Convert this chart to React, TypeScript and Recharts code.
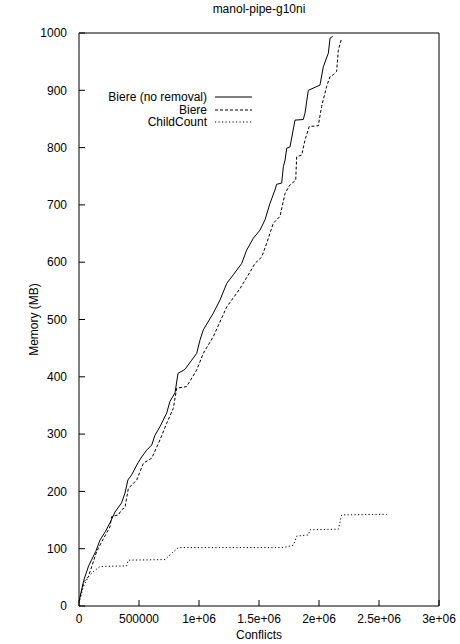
import { LineChart, Line, XAxis, YAxis, Label } from 'recharts'

// Biere (no removal) — conflicts vs memory in MB
const noRemovalPoints = [
  { x: 0, y: 8 }, { x: 40000, y: 45 }, { x: 80000, y: 70 }, { x: 139000, y: 95 },
  { x: 175000, y: 115 }, { x: 220000, y: 130 }, { x: 258000, y: 145 }, { x: 300000, y: 164 },
  { x: 355000, y: 180 }, { x: 383000, y: 197 }, { x: 408000, y: 220 }, { x: 439000, y: 229 },
  { x: 492000, y: 250 }, { x: 522000, y: 260 }, { x: 564000, y: 272 }, { x: 606000, y: 281 },
  { x: 633000, y: 298 }, { x: 675000, y: 313 }, { x: 731000, y: 337 }, { x: 758000, y: 357 },
  { x: 800000, y: 372 }, { x: 825000, y: 406 }, { x: 883000, y: 413 }, { x: 939000, y: 429 },
  { x: 981000, y: 441 }, { x: 1008000, y: 464 }, { x: 1036000, y: 482 }, { x: 1119000, y: 511 },
  { x: 1175000, y: 534 }, { x: 1231000, y: 563 }, { x: 1286000, y: 578 }, { x: 1356000, y: 598 },
  { x: 1397000, y: 621 }, { x: 1453000, y: 642 }, { x: 1508000, y: 656 }, { x: 1550000, y: 674 },
  { x: 1592000, y: 703 }, { x: 1633000, y: 726 }, { x: 1647000, y: 736 }, { x: 1689000, y: 738 },
  { x: 1703000, y: 767 }, { x: 1717000, y: 778 }, { x: 1731000, y: 799 }, { x: 1758000, y: 801 },
  { x: 1800000, y: 848 }, { x: 1869000, y: 849 }, { x: 1883000, y: 860 }, { x: 1911000, y: 900 },
  { x: 2008000, y: 909 }, { x: 2036000, y: 941 }, { x: 2078000, y: 965 }, { x: 2092000, y: 991 },
  { x: 2114000, y: 994 },
]

// Biere
const bierePoints = [
  { x: 0, y: 8 }, { x: 40000, y: 42 }, { x: 78000, y: 51 }, { x: 147000, y: 95 },
  { x: 189000, y: 112 }, { x: 258000, y: 138 }, { x: 272000, y: 156 }, { x: 328000, y: 159 },
  { x: 356000, y: 168 }, { x: 383000, y: 172 }, { x: 411000, y: 205 }, { x: 481000, y: 220 },
  { x: 536000, y: 249 }, { x: 606000, y: 258 }, { x: 675000, y: 290 }, { x: 731000, y: 319 },
  { x: 786000, y: 345 }, { x: 814000, y: 380 }, { x: 897000, y: 383 }, { x: 981000, y: 412 },
  { x: 1036000, y: 441 }, { x: 1119000, y: 470 }, { x: 1231000, y: 522 }, { x: 1342000, y: 554 },
  { x: 1425000, y: 583 }, { x: 1467000, y: 598 }, { x: 1522000, y: 609 }, { x: 1564000, y: 633 },
  { x: 1619000, y: 668 }, { x: 1675000, y: 680 }, { x: 1717000, y: 720 }, { x: 1758000, y: 735 },
  { x: 1806000, y: 743 }, { x: 1814000, y: 784 }, { x: 1856000, y: 787 }, { x: 1883000, y: 813 },
  { x: 1919000, y: 837 }, { x: 1994000, y: 838 }, { x: 2022000, y: 872 }, { x: 2064000, y: 907 },
  { x: 2092000, y: 924 }, { x: 2119000, y: 927 }, { x: 2147000, y: 933 }, { x: 2161000, y: 970 },
  { x: 2189000, y: 991 },
]

// ChildCount
const childCountPoints = [
  { x: 0, y: 5 }, { x: 36000, y: 34 }, { x: 78000, y: 51 }, { x: 119000, y: 60 },
  { x: 175000, y: 69 }, { x: 397000, y: 70 }, { x: 411000, y: 80 }, { x: 717000, y: 81 },
  { x: 772000, y: 92 }, { x: 828000, y: 102 }, { x: 1703000, y: 102 }, { x: 1786000, y: 106 },
  { x: 1814000, y: 122 }, { x: 1911000, y: 124 }, { x: 1925000, y: 133 }, { x: 2161000, y: 134 },
  { x: 2189000, y: 159 }, { x: 2564000, y: 160 },
]

const xTicks = [0, 500000, 1000000, 1500000, 2000000, 2500000, 3000000]
const xTickLabels = ['0', '500000', '1e+06', '1.5e+06', '2e+06', '2.5e+06', '3e+06']
const yTicks = [0, 100, 200, 300, 400, 500, 600, 700, 800, 900, 1000]

const series = [
  { name: 'Biere (no removal)', points: noRemovalPoints, dash: undefined },
  { name: 'Biere', points: bierePoints, dash: '3 2' },
  { name: 'ChildCount', points: childCountPoints, dash: '1.2 2.3' },
]

const FONT = '"Liberation Sans", Arial, sans-serif'
const tickStyle = { fontSize: 12, fill: '#000', fontFamily: FONT }
const labelStyle = { fontSize: 12, fill: '#000', fontFamily: FONT }
const tickLine = { stroke: '#000', strokeWidth: 1 }

function LegendBox() {
  return (
    <div style={{ position: 'absolute', left: 100, top: 91, fontFamily: FONT, fontSize: 12, color: '#000' }}>
      {series.map(s => (
        <div key={s.name} style={{ display: 'flex', alignItems: 'center', height: 12.5 }}>
          <span style={{ width: 107, textAlign: 'right', whiteSpace: 'nowrap' }}>{s.name}</span>
          <svg width={45} height={12} style={{ marginLeft: 8 }}>
            <line x1={0} y1={6} x2={37} y2={6} stroke="#000" strokeWidth={1} strokeDasharray={s.dash} />
          </svg>
        </div>
      ))}
    </div>
  )
}

export default function App() {
  return (
    <div style={{ position: 'absolute', left: 0, top: 0, width: 460, height: 644, background: '#fff' }}>
      <LineChart width={460} height={644} margin={{ top: 32, right: 20, left: 0, bottom: 0 }}>
        <XAxis
          xAxisId="bottom"
          type="number"
          dataKey="x"
          domain={[0, 3000000]}
          ticks={xTicks}
          tickFormatter={(v: number) => xTickLabels[xTicks.indexOf(v)] ?? String(v)}
          height={38}
          tickSize={-6}
          tickMargin={14}
          tick={tickStyle}
          tickLine={tickLine}
          axisLine={tickLine}
          allowDataOverflow
        >
          <Label value="Conflicts" position="insideBottom" offset={5} style={labelStyle} />
        </XAxis>
        <XAxis
          xAxisId="top"
          orientation="top"
          type="number"
          domain={[0, 3000000]}
          ticks={xTicks}
          height={1}
          tickSize={-6}
          tick={false}
          tickLine={tickLine}
          axisLine={tickLine}
        >
          <Label value="manol-pipe-g10ni" position="top" offset={19} style={labelStyle} />
        </XAxis>
        <YAxis
          yAxisId="left"
          type="number"
          domain={[0, 1000]}
          ticks={yTicks}
          width={79}
          tickSize={-6}
          tickMargin={18}
          tick={tickStyle}
          tickLine={tickLine}
          axisLine={tickLine}
        >
          <Label value="Memory (MB)" angle={-90} position="insideLeft" offset={34} style={{ ...labelStyle, textAnchor: 'middle' }} />
        </YAxis>
        <YAxis
          yAxisId="right"
          orientation="right"
          type="number"
          domain={[0, 1000]}
          ticks={yTicks}
          width={1}
          tickSize={-6}
          tick={false}
          tickLine={tickLine}
          axisLine={tickLine}
        />
        {series.map(s => (
          <Line
            key={s.name}
            xAxisId="bottom"
            yAxisId="left"
            data={s.points}
            dataKey="y"
            name={s.name}
            type="linear"
            stroke="#000"
            strokeWidth={1}
            strokeDasharray={s.dash}
            dot={false}
            activeDot={false}
            isAnimationActive={false}
          />
        ))}
      </LineChart>
      <LegendBox />
    </div>
  )
}
